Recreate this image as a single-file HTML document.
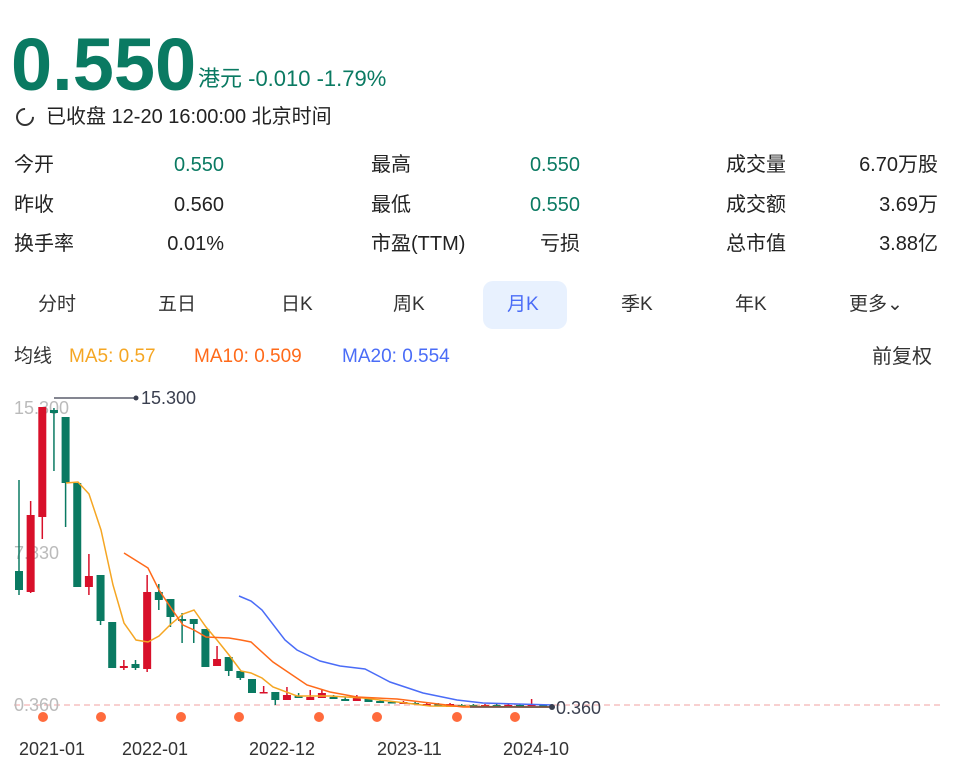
<!DOCTYPE html>
<html><head><meta charset="utf-8"><style>
body{margin:0;width:958px;height:774px;background:#fff;font-family:"Liberation Sans","Noto Sans CJK SC",sans-serif;color:#222;overflow:hidden;position:relative}
.a{position:absolute;white-space:nowrap;line-height:24px}
.g{color:#0a7a62}
.r{text-align:right}
.t{font-size:20px}
.tab{font-size:19px;top:293px;color:#333}
</style></head><body>
<div class="a g" style="left:11px;top:24px;font-size:74px;font-weight:bold;line-height:82px">0.550</div>
<div class="a g" style="left:198px;top:67px;font-size:22px">港元 -0.010 -1.79%</div>
<div class="a" style="left:16px;top:108px;width:14px;height:14px;border:2px solid #333;border-radius:50%;border-top-color:transparent;transform:rotate(45deg)"></div>
<div class="a t" style="left:46px;top:105px">已收盘 12-20 16:00:00 北京时间</div>

<div class="a t" style="left:14px;top:153px">今开</div><div class="a t g r" style="left:124px;width:100px;top:153px">0.550</div>
<div class="a t" style="left:14px;top:193px">昨收</div><div class="a t r" style="left:124px;width:100px;top:193px">0.560</div>
<div class="a t" style="left:14px;top:232px">换手率</div><div class="a t r" style="left:124px;width:100px;top:232px">0.01%</div>
<div class="a t" style="left:371px;top:153px">最高</div><div class="a t g r" style="left:480px;width:100px;top:153px">0.550</div>
<div class="a t" style="left:371px;top:193px">最低</div><div class="a t g r" style="left:480px;width:100px;top:193px">0.550</div>
<div class="a t" style="left:371px;top:232px">市盈(TTM)</div><div class="a t r" style="left:480px;width:100px;top:232px">亏损</div>
<div class="a t" style="left:726px;top:153px">成交量</div><div class="a t r" style="left:818px;width:120px;top:153px">6.70万股</div>
<div class="a t" style="left:726px;top:193px">成交额</div><div class="a t r" style="left:818px;width:120px;top:193px">3.69万</div>
<div class="a t" style="left:726px;top:232px">总市值</div><div class="a t r" style="left:818px;width:120px;top:232px">3.88亿</div>

<div class="a" style="left:483px;top:281px;width:84px;height:48px;background:#e8f1fe;border-radius:10px"></div>
<div class="a tab" style="left:38px">分时</div>
<div class="a tab" style="left:158px">五日</div>
<div class="a tab" style="left:281px">日K</div>
<div class="a tab" style="left:393px">周K</div>
<div class="a tab" style="left:507px;color:#4a6cf7">月K</div>
<div class="a tab" style="left:621px">季K</div>
<div class="a tab" style="left:735px">年K</div>
<div class="a tab" style="left:849px">更多⌄</div>

<div class="a" style="left:14px;top:345px;font-size:19px;color:#333">均线</div>
<div class="a" style="left:69px;top:345px;font-size:19px;color:#f5a623">MA5: 0.57</div>
<div class="a" style="left:194px;top:345px;font-size:19px;color:#ff6a1a">MA10: 0.509</div>
<div class="a" style="left:342px;top:345px;font-size:19px;color:#4a6cf7">MA20: 0.554</div>
<div class="a" style="left:872px;top:345px;font-size:20px;color:#333">前复权</div>

<svg class="a" style="left:0;top:0" width="958" height="774" font-family="Liberation Sans, sans-serif">
<line x1="14" y1="705" x2="940" y2="705" stroke="#f0a0a0" stroke-dasharray="6,4" stroke-width="1"/>
<text x="14" y="414" font-size="18" fill="#bbb">15.300</text>
<text x="14" y="559" font-size="18" fill="#bbb">7.830</text>
<text x="14" y="711" font-size="18" fill="#bbb">0.360</text>
<g id="c"></g>
<polyline fill="none" stroke="#f5a623" stroke-width="1.5" points="66,483 78,482 89,494 101,530 113,585 124,623 136,640 148,642 159,636 171,624 183,614 194,610 206,627 217,640 229,655 241,671 251,673 262,678 273,687 297,696 330,696 363,698 397,702 430,706 530,707 553,707"/>
<polyline fill="none" stroke="#ff6a1a" stroke-width="1.5" points="124,553 148,568 159,590 171,608 183,625 194,630 206,637 229,638 241,640 251,642 273,662 307,685 330,692 357,697 397,699 430,703 463,707 553,707"/>
<polyline fill="none" stroke="#4a6cf7" stroke-width="1.5" points="239,596 251,601 262,610 285,640 297,650 320,661 340,666 365,669 390,682 423,693 457,700 483,703 553,705"/>
<polyline fill="none" stroke="#3a3f4f" stroke-width="1.2" points="54,398 136,398"/>
<circle cx="136" cy="398" r="2.5" fill="#3a3f4f"/>
<text x="141" y="404" font-size="18" fill="#3a3f4f">15.300</text>
<line x1="470" y1="707" x2="552" y2="707" stroke="#3a3f4f" stroke-width="1.2"/>
<circle cx="552" cy="707" r="3" fill="#3a3f4f"/>
<text x="556" y="714" font-size="18" fill="#3a3f4f">0.360</text>
<g fill="#ff6b3d">
<circle cx="43" cy="717" r="5"/><circle cx="101" cy="717" r="5"/><circle cx="181" cy="717" r="5"/><circle cx="239" cy="717" r="5"/><circle cx="319" cy="717" r="5"/><circle cx="377" cy="717" r="5"/><circle cx="457" cy="717" r="5"/><circle cx="515" cy="717" r="5"/>
</g>
<g font-size="18" fill="#333">
<text x="19" y="755">2021-01</text><text x="122" y="755">2022-01</text><text x="249" y="755">2022-12</text><text x="377" y="755">2023-11</text><text x="503" y="755">2024-10</text>
</g>
</svg>
<script>
var G="#0a7a62",R="#d8102a";
var d=[[G,571,590,480,595],[R,515,592,501,593],[R,407,517,407,539],[G,410,413,408,471],[G,417,483,417,527],[G,483,587,483,587],[R,576,587,554,595],[G,575,621,575,625],[G,622,668,622,668],[R,666,668,660,670],[G,664,668,660,670],[R,592,669,575,672],[G,592,600,584,610],[G,599,617,599,627],[G,619,621,613,643],[G,619,624,619,643],[G,629,667,629,667],[R,659,666,646,666],[G,657,671,657,676],[G,671,678,671,680],[G,679,693,679,693],[R,692,693,686,693],[G,692,700,692,705],[R,695,700,687,700],[G,696,698,693,698],[R,697,700,690,700],[R,693,698,690,698],[G,697,699,695,699],[G,699,701,697,701],[R,697,701,695,701],[G,699,702,698,702],[G,701,703,700,703],[G,702,703,701,703],[R,702,704,701,704],[G,703,704,702,704],[R,704,706,703,706],[G,704,706,703,706],[R,704,707,703,707],[G,705,706,704,706],[G,705,707,704,707],[R,705,707,704,707],[G,705,706,704,706],[R,705,707,703,707],[G,705,706,704,706],[R,704,706,699,706],[G,705,707,704,707]];
var s="";d.forEach(function(c,i){var x=19+11.65*i;s+='<line x1="'+x+'" x2="'+x+'" y1="'+c[3]+'" y2="'+c[4]+'" stroke="'+c[0]+'" stroke-width="1.5"/><rect x="'+(x-4)+'" y="'+c[1]+'" width="8" height="'+Math.max(1.5,c[2]-c[1])+'" fill="'+c[0]+'"/>';});
document.getElementById("c").innerHTML=s;
</script>
</body></html>
